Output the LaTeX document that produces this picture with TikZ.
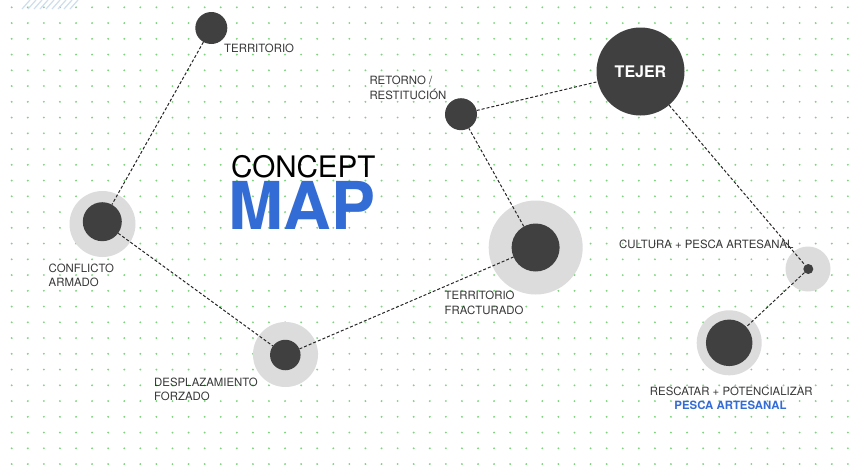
\documentclass[tikz,border=0pt]{standalone}
\usepackage{fontspec}
\setmainfont{TeX Gyre Heros}
\definecolor{darkc}{RGB}{64,64,64}
\definecolor{lightc}{RGB}{220,220,220}
\definecolor{dotc}{RGB}{125,212,125}
\definecolor{blueM}{RGB}{52,108,214}
\definecolor{txtc}{RGB}{55,55,55}
\definecolor{hatchc}{RGB}{205,222,238}
\begin{document}
\begin{tikzpicture}[x=1pt,y=-1pt,
  outerc/.style={circle,fill=lightc,inner sep=0pt,draw=none},
  innerc/.style={circle,fill=darkc,inner sep=0pt,draw=none},
  lbl/.style={anchor=base west,inner sep=0pt,text=txtc,font=\fontsize{11.4}{14}\selectfont},
  edge/.style={draw=black!85,line width=1pt,dash pattern=on 3pt off 2pt}]
\useasboundingbox[fill=white] (0,0) rectangle (859,464);
% dot grid
\foreach \i in {0,...,52}{
  \foreach \j in {0,...,29}{
    \fill[dotc] ({11.7+16.08*\i},{7.3+15.75*\j}) circle (1.05);
  }
}
% faint hatch top-left
\foreach \k in {0,...,8}{
  \draw[hatchc,line width=1.2pt] ({22+6*\k},9) -- ({30+6*\k},0);
}
% light halos
\node[outerc,minimum size=66] (confo) at (102.5,224) {};
\node[outerc,minimum size=65] (despo) at (285.5,354.5) {};
\node[outerc,minimum size=94] (fraco) at (535.7,247.5) {};
\node[outerc,minimum size=45] (culto) at (808,269) {};
\node[outerc,minimum size=65] (resco) at (729.2,342.8) {};
% dark circles
\node[innerc,minimum size=32] (terr) at (211.3,28) {};
\node[innerc,minimum size=39] (conf) at (102.3,221.7) {};
\node[innerc,minimum size=30.5] (desp) at (285.3,355) {};
\node[innerc,minimum size=48] (frac) at (535.6,247.5) {};
\node[innerc,minimum size=32] (reto) at (461,114.2) {};
\node[innerc,minimum size=88,text=white,font=\bfseries\fontsize{16}{16}\selectfont] (tejer) at (640.5,71.5) {TEJER};
\node[innerc,minimum size=10] (cult) at (808.3,269) {};
\node[innerc,minimum size=46.5] (resc) at (729.2,342.8) {};
% connectors
\draw[edge] (terr) -- (conf);
\draw[edge] (conf) -- (desp);
\draw[edge] (desp) -- (frac);
\draw[edge] (frac) -- (reto);
\draw[edge] (reto) -- (tejer);
\draw[edge] (tejer) -- (cult);
\draw[edge] (cult) -- (resc);
% labels
\node[lbl] (lterr) at (224,52.7) {TERRITORIO};
\node[lbl] (lconf1) at (48.5,272.8) {CONFLICTO};
\node[lbl] (lconf2) at (48.5,286.5) {ARMADO};
\node[lbl] (ldesp1) at (154,386) {DESPLAZAMIENTO};
\node[lbl] (ldesp2) at (154,400.7) {FORZADO};
\node[lbl] (lfrac1) at (444.5,299.5) {TERRITORIO};
\node[lbl] (lfrac2) at (444.5,314.3) {FRACTURADO};
\node[lbl] (lreto1) at (369.3,84) {RETORNO /};
\node[lbl] (lreto2) at (369.3,99.3) {RESTITUCIÓN};
\node[lbl] (lcult) at (619,248.3) {CULTURA + PESCA ARTESANAL};
\node[lbl,anchor=base] (lresc1) at (731.3,395) {RESCATAR + POTENCIALIZAR};
\node[lbl,anchor=base,text=blueM,font=\bfseries\fontsize{11.4}{14}\selectfont] (lresc2) at (730.5,409.3) {PESCA ARTESANAL};
% title
\node[anchor=base west,inner sep=0pt,text=black,font=\fontsize{29.6}{30}\selectfont] (concept) at (231,177) {CONCEPT};
\node[anchor=base west,inner sep=0pt,text=blueM,font=\bfseries\fontsize{66}{66}\selectfont] (map) at (228.5,229) {MAP};
\end{tikzpicture}
\end{document}
